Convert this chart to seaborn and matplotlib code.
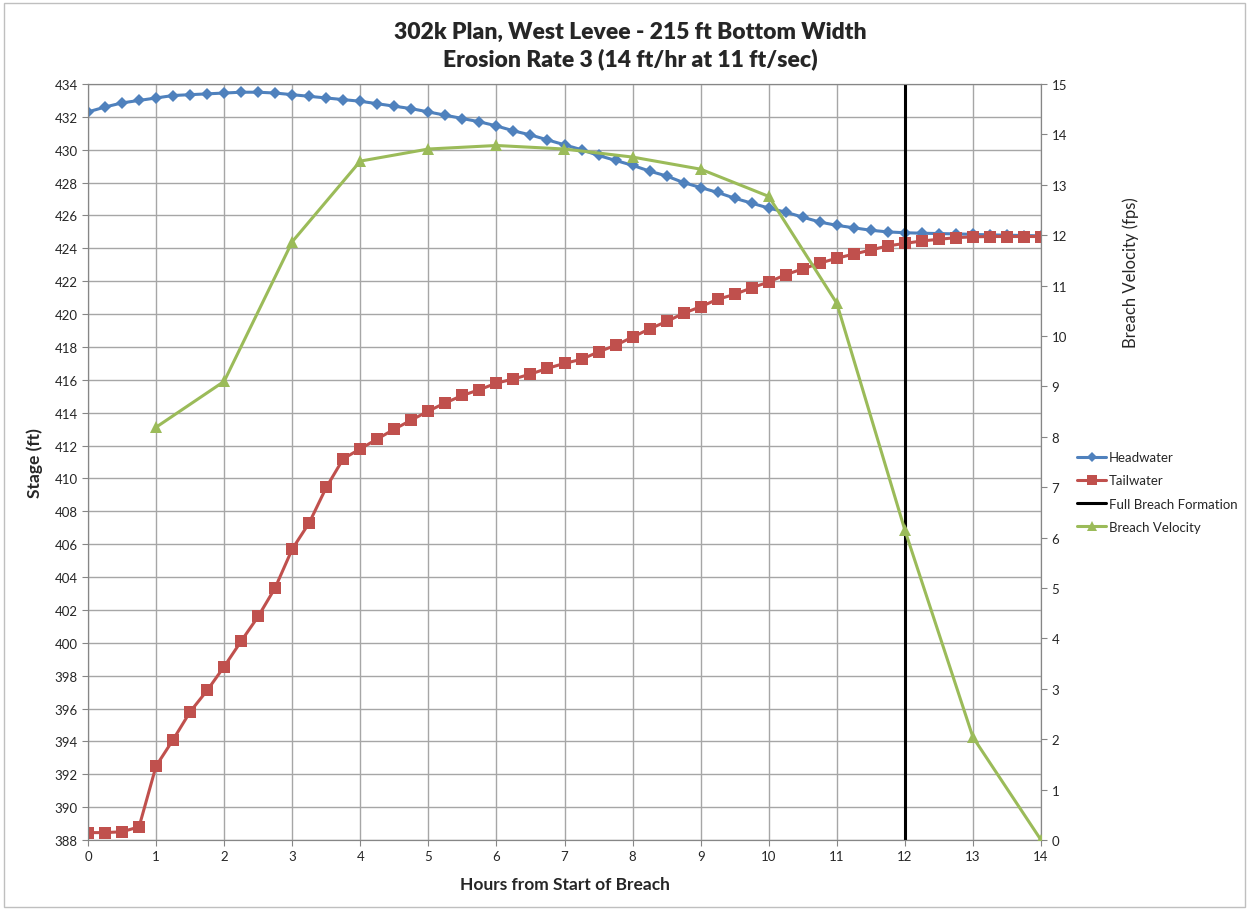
import numpy as np
import pandas as pd
import matplotlib
matplotlib.use("Agg")
import matplotlib.pyplot as plt
import matplotlib.patches as mpatches
from matplotlib.lines import Line2D
import seaborn as sns

# ---- data ----
hours = [i * 0.25 for i in range(57)]
headwater = [432.3, 432.6, 432.85, 433.0, 433.15, 433.3, 433.35, 433.4, 433.45, 433.5,
             433.5, 433.45, 433.35, 433.25, 433.15, 433.05, 432.95, 432.8, 432.65, 432.5,
             432.3, 432.1, 431.9, 431.7, 431.45, 431.15, 430.9, 430.6, 430.3, 430.0,
             429.65, 429.35, 429.05, 428.7, 428.4, 428.0, 427.7, 427.4, 427.05, 426.75,
             426.45, 426.2, 425.9, 425.6, 425.4, 425.25, 425.1, 425.0, 424.95, 424.92,
             424.9, 424.88, 424.85, 424.82, 424.8, 424.78, 424.76]
tailwater = [388.45, 388.45, 388.5, 388.8, 392.5, 394.1, 395.8, 397.1, 398.55, 400.1,
             401.6, 403.35, 405.7, 407.3, 409.45, 411.2, 411.8, 412.4, 413.0, 413.55,
             414.1, 414.6, 415.05, 415.4, 415.8, 416.05, 416.35, 416.7, 417.0, 417.25,
             417.7, 418.1, 418.6, 419.1, 419.55, 420.05, 420.45, 420.9, 421.2, 421.6,
             421.95, 422.4, 422.75, 423.1, 423.4, 423.65, 423.9, 424.15, 424.3, 424.45,
             424.55, 424.65, 424.7, 424.72, 424.72, 424.72, 424.72]
vel_hours = [1, 2, 3, 4, 5, 6, 7, 8, 9, 10, 11, 12, 13, 14]
velocity = [8.19, 9.1, 11.87, 13.47, 13.71, 13.78, 13.71, 13.55, 13.31, 12.77,
            10.65, 6.15, 2.04, 0.0]
full_breach_hour = 12

stage = pd.DataFrame({"hours": hours, "Headwater": headwater, "Tailwater": tailwater})
vel = pd.DataFrame({"hours": vel_hours, "velocity": velocity})

blue = "#4F81BD"
red = "#C0504D"
green = "#9BBB59"

sns.set_style("white")
plt.rcParams["font.family"] = ["Lato", "DejaVu Sans"]

fig = plt.figure(figsize=(12.49, 9.12), dpi=100)
ax = fig.add_axes([88 / 1249, 1 - 841 / 912, (1041 - 88) / 1249, (841 - 85) / 912])

sns.lineplot(data=stage, x="hours", y="Headwater", ax=ax, color=blue, lw=2.2,
             marker="D", markersize=6.5, markeredgewidth=0, zorder=3)
sns.lineplot(data=stage, x="hours", y="Tailwater", ax=ax, color=red, lw=2.2,
             marker="s", markersize=8, markeredgewidth=0, zorder=4)
ax.axvline(full_breach_hour, color="black", lw=2.2, zorder=5)

ax.set_xlim(0, 14)
ax.set_ylim(388, 434)
ax.set_xticks(range(0, 15))
ax.set_yticks(range(388, 435, 2))
ax.grid(True, color="#A6A6A6", lw=1)
ax.set_axisbelow(True)
for s in ax.spines.values():
    s.set_color("#868686")
ax.tick_params(axis="both", labelsize=9.5, length=4, color="#868686", direction="out",
               left=True, bottom=True)
ax.set_xlabel("Hours from Start of Breach", fontsize=12.5, fontweight="bold", labelpad=10)
ax.set_ylabel("Stage (ft)", fontsize=12.5, fontweight="bold", labelpad=8)

ax2 = ax.twinx()
sns.lineplot(data=vel, x="hours", y="velocity", ax=ax2, color=green, lw=2.2,
             marker="^", markersize=9, markeredgewidth=0, zorder=6)
ax2.set_ylim(0, 15)
ax2.set_yticks(range(0, 16))
ax2.grid(False)
for s in ax2.spines.values():
    s.set_color("#868686")
ax2.tick_params(axis="y", labelsize=9.5, length=4, color="#868686", direction="out", right=True)
ax2.set_ylabel("Breach Velocity (fps)", fontsize=12)
ax2.yaxis.set_label_coords((1122 - 88) / 953, (841 - 273) / 756)
ax2.set_xlim(0, 14)

fig.suptitle("302k Plan, West Levee - 215 ft Bottom Width\nErosion Rate 3 (14 ft/hr at 11 ft/sec)",
             fontsize=16.5, fontweight="heavy", x=630 / 1249, y=1 - 22 / 912, va="top",
             linespacing=1.3)

handles = [
    Line2D([], [], color=blue, lw=2.2, marker="D", markersize=5, markeredgewidth=0),
    Line2D([], [], color=red, lw=2.2, marker="s", markersize=7, markeredgewidth=0),
    Line2D([], [], color="black", lw=2.2),
    Line2D([], [], color=green, lw=2.2, marker="^", markersize=7, markeredgewidth=0),
]
labels = ["Headwater", "Tailwater", "Full Breach Formation", "Breach Velocity"]
fig.legend(handles, labels, loc="upper left", bbox_to_anchor=(1072 / 1249, 1 - 447 / 912),
           frameon=False, fontsize=9.5, handlelength=2.2, handletextpad=0.2,
           labelspacing=0.85, borderaxespad=0)

fig.patches.append(mpatches.Rectangle((4 / 1249, 4 / 912), 1 - 8 / 1249, 1 - 8 / 912,
                                      transform=fig.transFigure, fill=False,
                                      edgecolor="#BFBFBF", lw=1))

fig.savefig("out.png", dpi=100)
